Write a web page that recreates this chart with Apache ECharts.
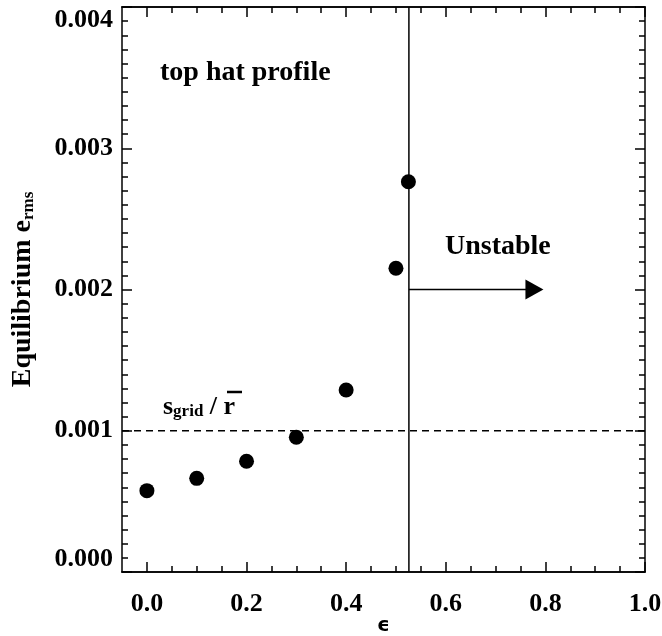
<!DOCTYPE html>
<html>
<head>
<meta charset="utf-8">
<script src="https://cdn.jsdelivr.net/npm/echarts@6/dist/echarts.min.js"></script>
<style>html,body{margin:0;padding:0;background:#fff}#c{width:662px;height:636px}</style>
</head>
<body>
<div id="c"></div>
<script>
// ---- data ----
const epsValues = [0.0, 0.1, 0.2, 0.3, 0.4, 0.5, 0.525];
const ermsValues = [0.000576, 0.000663, 0.000784, 0.000954, 0.001289, 0.00215, 0.002763];
const stabilityLimit = 0.526;
const gridRatioLevel = 0.001;
const arrowLevel = 0.002;
const arrowEnd = 0.778;
const xMajorTicks = [0.0, 0.2, 0.4, 0.6, 0.8, 1.0];
const xMinorTicks = [0.05, 0.1, 0.15, 0.25, 0.3, 0.35, 0.45, 0.5, 0.55, 0.65, 0.7, 0.75, 0.85, 0.9, 0.95];
const xRange = [-0.05, 1.0];
const yRange = [0, 0.004];
const yInterval = 0.001;

const FONT = '"Liberation Serif","Times New Roman",serif';
const chart = echarts.init(document.getElementById('c'), null, {renderer: 'canvas'});

const lineCol = '#000';
function xAx(pos, ticks, len, labels) {
  return {
    type: 'value', position: pos, min: xRange[0], max: xRange[1],
    axisLine: {show: true, onZero: false, lineStyle: {color: lineCol, width: 1.5}},
    axisTick: {show: true, inside: true, length: len, customValues: ticks, lineStyle: {color: lineCol, width: 1.5}},
    axisLabel: labels ? {show: true, customValues: ticks, color: '#000', fontFamily: FONT, fontWeight: 'bold', fontSize: 26, margin: 19,
      formatter: v => v.toFixed(1)} : {show: false},
    splitLine: {show: false}
  };
}
function yAx(pos, labels) {
  return {
    type: 'value', position: pos, min: yRange[0], max: yRange[1], interval: yInterval,
    axisLine: {show: true, onZero: false, lineStyle: {color: lineCol, width: 1.5}},
    axisTick: {show: true, inside: true, length: 10, lineStyle: {color: lineCol, width: 1.5}},
    minorTick: {show: true, splitNumber: 10, length: 6, lineStyle: {color: lineCol, width: 1.5}},
    axisLabel: labels ? {show: true, color: '#000', fontFamily: FONT, fontWeight: 'bold', fontSize: 26, margin: 9,
      verticalAlignMinLabel: 'bottom', verticalAlignMaxLabel: 'top',
      formatter: v => v.toFixed(3)} : {show: false},
    splitLine: {show: false}, minorSplitLine: {show: false}
  };
}

const xAxes = [
  xAx('bottom', xMajorTicks, 10, true),
  xAx('bottom', xMinorTicks, 6, false),
  xAx('top', xMajorTicks, 10, false),
  xAx('top', xMinorTicks, 6, false)
];
xAxes[0].name = 'ϵ';
xAxes[0].nameLocation = 'middle';
xAxes[0].nameGap = 44;
xAxes[0].nameMoveOverlap = false;
xAxes[0].nameTextStyle = {fontFamily: '"DejaVu Sans",sans-serif', fontWeight: 'bold', fontSize: 20, color: '#000'};

const yAxes = [yAx('left', true), yAx('right', false)];
yAxes[0].name = '{a|Equilibrium e}{s|rms}';
yAxes[0].nameLocation = 'middle';
yAxes[0].nameGap = 85;
yAxes[0].nameMoveOverlap = false;
yAxes[0].nameTextStyle = {
  rich: {
    a: {fontFamily: FONT, fontWeight: 'bold', fontSize: 28, color: '#000', lineHeight: 34, verticalAlign: 'bottom'},
    s: {fontFamily: FONT, fontWeight: 'bold', fontSize: 17, color: '#000', lineHeight: 24, verticalAlign: 'bottom'}
  }
};

chart.setOption({
  animation: false,
  backgroundColor: '#fff',
  grid: {left: 122, right: 17, top: 7, bottom: 64, containLabel: false, outerBoundsMode: 'none'},
  xAxis: xAxes,
  yAxis: yAxes,
  series: [
    {
      type: 'line', xAxisIndex: 0, yAxisIndex: 0, symbol: 'none', silent: true,
      data: [[xRange[0], gridRatioLevel], [xRange[1], gridRatioLevel]],
      lineStyle: {color: '#000', width: 1.5, type: [7, 5]}
    },
    {
      type: 'line', xAxisIndex: 0, yAxisIndex: 0, symbol: 'none', silent: true,
      data: [[stabilityLimit, yRange[0]], [stabilityLimit, yRange[1]]],
      lineStyle: {color: '#000', width: 1.5}
    },
    {
      type: 'line', xAxisIndex: 0, yAxisIndex: 0, symbol: 'none', silent: true,
      data: [[stabilityLimit, arrowLevel], [arrowEnd, arrowLevel]],
      lineStyle: {color: '#000', width: 1.5}
    },
    {
      type: 'scatter', xAxisIndex: 0, yAxisIndex: 0, silent: true,
      symbol: 'triangle', symbolRotate: -90, symbolSize: [20, 18],
      data: [[arrowEnd, arrowLevel]],
      itemStyle: {color: '#000', opacity: 1}
    },
    {
      type: 'scatter', xAxisIndex: 0, yAxisIndex: 0, silent: true,
      symbol: 'circle', symbolSize: 15,
      data: epsValues.map((e, i) => [e, ermsValues[i]]),
      itemStyle: {color: '#000', opacity: 1}
    }
  ],
  graphic: [
    {type: 'text', left: 160, top: 59, silent: true,
      style: {text: 'top hat profile', font: 'bold 28px ' + FONT, fill: '#000'}},
    {type: 'text', left: 445, top: 233, silent: true,
      style: {text: 'Unstable', font: 'bold 28px ' + FONT, fill: '#000'}},
    {type: 'text', left: 163, top: 394, silent: true,
      style: {text: '{m|s}{g|grid}{m| / r}',
        rich: {
          m: {fontFamily: FONT, fontWeight: 'bold', fontSize: 26, fill: '#000', color: '#000', lineHeight: 30, verticalAlign: 'bottom'},
          g: {fontFamily: FONT, fontWeight: 'bold', fontSize: 17, fill: '#000', color: '#000', lineHeight: 22, verticalAlign: 'bottom'}
        }}},
    {type: 'line', silent: true, shape: {x1: 227, y1: 392, x2: 242, y2: 392},
      style: {stroke: '#000', lineWidth: 2.5}}
  ]
});
</script>
</body>
</html>
